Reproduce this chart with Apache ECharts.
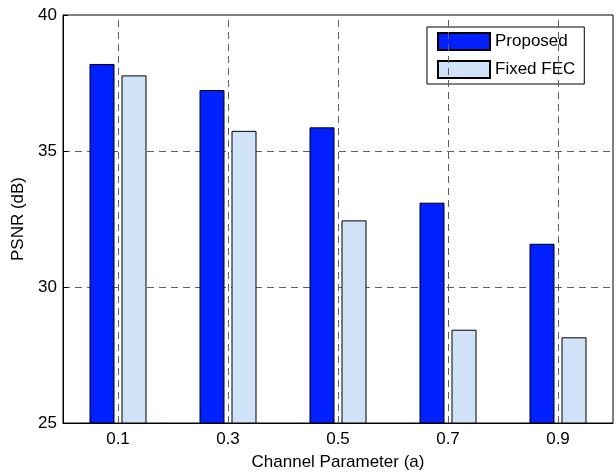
<!DOCTYPE html>
<html>
<head>
<meta charset="utf-8">
<script src="https://cdn.jsdelivr.net/npm/echarts@6/dist/echarts.min.js"></script>
<style>
  html, body { margin: 0; padding: 0; background: #fff; }
  #chart { width: 616px; height: 473px; }
</style>
</head>
<body>
<div id="chart"></div>
<script>
// Channel parameter values on the x axis
const categories = ['0.1', '0.3', '0.5', '0.7', '0.9'];
// PSNR (dB) for each scheme
const proposed = [38.2, 37.24, 35.87, 33.1, 31.59];
const fixedFec = [37.78, 35.74, 32.45, 28.43, 28.15];
// Y axis range
const yMin = 25, yMax = 40, yStep = 5;

const FONT = '"Liberation Sans", Arial, Helvetica, sans-serif';
const FS = 17;
const gridDash = { color: '#5e5e5e', width: 1, type: [7, 5] };

const chart = echarts.init(document.getElementById('chart'), null, { renderer: 'canvas' });

chart.setOption({
  animation: false,
  backgroundColor: '#fff',
  textStyle: { fontFamily: FONT, color: '#000' },
  grid: {
    left: 63, right: 3, top: 15, bottom: 50,
    outerBoundsMode: 'none',
    containLabel: false,
    show: true, borderColor: '#000', borderWidth: 1, backgroundColor: 'transparent'
  },
  legend: {
    left: 427, top: 27,
    orient: 'vertical',
    itemWidth: 52, itemHeight: 17, itemGap: 9,
    padding: [5, 9, 5, 10],
    backgroundColor: '#fff', borderColor: '#000', borderWidth: 1,
    borderRadius: 0,
    textStyle: { fontFamily: FONT, fontSize: FS, color: '#000' },
    data: [
      { name: 'Proposed', icon: 'rect' },
      { name: 'Fixed FEC', icon: 'rect' }
    ]
  },
  xAxis: {
    type: 'category',
    data: categories,
    name: 'Channel Parameter (a)',
    nameLocation: 'middle',
    nameGap: 31,
    nameTextStyle: { fontFamily: FONT, fontSize: FS, color: '#000' },
    axisLine: { lineStyle: { color: '#000', width: 1 } },
    axisTick: { show: true, inside: true, length: 5, alignWithLabel: true, lineStyle: { color: '#000' } },
    axisLabel: { fontFamily: FONT, fontSize: FS, color: '#000', margin: 8 },
    splitLine: { show: false }
  },
  yAxis: {
    type: 'value',
    min: yMin, max: yMax, interval: yStep,
    name: 'PSNR (dB)',
    nameLocation: 'middle',
    nameGap: 29,
    nameRotate: 90,
    nameTextStyle: { fontFamily: FONT, fontSize: FS, color: '#000' },
    axisLine: { show: true, lineStyle: { color: '#000', width: 1 } },
    axisTick: { show: true, inside: true, length: 5, lineStyle: { color: '#000' } },
    axisLabel: { fontFamily: FONT, fontSize: FS, color: '#000', margin: 6 },
    splitLine: { show: true, showMinLine: false, showMaxLine: false, lineStyle: gridDash }
  },
  series: [
    {
      name: 'Proposed',
      type: 'bar',
      data: proposed,
      barWidth: 25,
      barGap: '28%',
      itemStyle: { color: '#0020ff', borderColor: '#000', borderWidth: 1 }
    },
    {
      name: 'Fixed FEC',
      type: 'bar',
      data: fixedFec,
      barWidth: 25,
      itemStyle: { color: '#d0e2f7', borderColor: '#000', borderWidth: 1 }
    },
    {
      // vertical dashed grid lines at each category centre
      name: 'xgrid',
      type: 'line',
      data: [],
      silent: true,
      z: 1,
      markLine: {
        silent: true,
        symbol: 'none',
        label: { show: false },
        lineStyle: gridDash,
        data: categories.map(c => ({ xAxis: c }))
      }
    }
  ]
});
</script>
</body>
</html>
